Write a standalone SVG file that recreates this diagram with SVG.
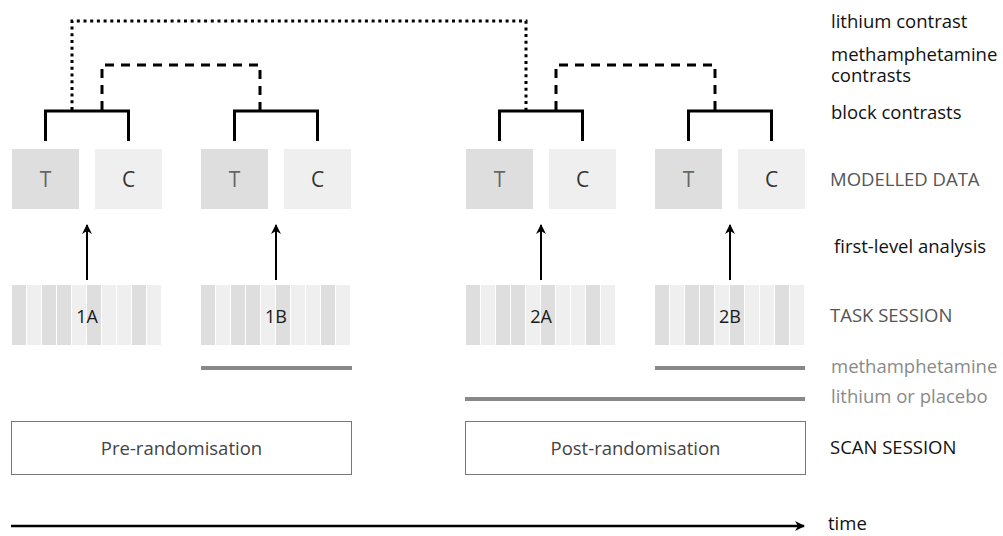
<svg xmlns="http://www.w3.org/2000/svg" width="1003" height="536" viewBox="0 0 1003 536">
  <style>
    text { font-family: "Open Sans", "Noto Sans", "DejaVu Sans", sans-serif; }
    .dark { fill: #dedede; }
    .light { fill: #efefef; }
    .lblT { font-size: 21px; fill: #666; text-anchor: middle; }
    .lblC { font-size: 21px; fill: #333; text-anchor: middle; }
    .lblTask { font-size: 18px; fill: #1a1a1a; text-anchor: middle; }
    .scanbox { fill: #fff; stroke: #777; stroke-width: 1; }
    .scanlbl { font-size: 18.5px; fill: #444; text-anchor: middle; }
    .legend { font-size: 18.5px; fill: #111; }
    .legend-grey { font-size: 18.5px; fill: #555; }
    .legend-drug { font-size: 18.5px; fill: #8a8a8a; }
    .bracket { fill: none; stroke: #000; stroke-width: 3; }
    .dotted { fill: none; stroke: #000; stroke-width: 3; stroke-dasharray: 3 3.7; }
    .dashed { fill: none; stroke: #000; stroke-width: 3; stroke-dasharray: 9 7; }
    .analysis { stroke: #000; stroke-width: 2; marker-end: url(#head); }
    .drug { stroke: #888; stroke-width: 4; }
    .timeline { stroke: #000; stroke-width: 2.5; marker-end: url(#head); }
  </style>
  <defs>
    <marker id="head" viewBox="0 0 10 10" refX="9" refY="5" markerUnits="userSpaceOnUse" markerWidth="11" markerHeight="10" orient="auto">
      <path d="M0,0 L10,5 L0,10 L3,5 z" fill="#000"/>
    </marker>
    <!-- ten blocks of a task run: dark/light alternation -->
    <g id="blocks">
      <rect class="dark" x="0" y="0" width="14" height="60"/>
      <rect class="light" x="15" y="0" width="14" height="60"/>
      <rect class="dark" x="30" y="0" width="14" height="60"/>
      <rect class="dark" x="45" y="0" width="14" height="60"/>
      <rect class="light" x="60" y="0" width="14" height="60"/>
      <rect class="dark" x="75" y="0" width="14" height="60"/>
      <rect class="light" x="90" y="0" width="14" height="60"/>
      <rect class="light" x="105" y="0" width="14" height="60"/>
      <rect class="dark" x="120" y="0" width="14" height="60"/>
      <rect class="light" x="135" y="0" width="14" height="60"/>
    </g>
  </defs>

  <!-- contrast brackets and links -->
  <g id="connectors">
    <path class="bracket" d="M45.5,141 V111 H128.5 V141"/>
    <path class="bracket" d="M234.5,141 V111 H317.5 V141"/>
    <path class="bracket" d="M499.5,141 V111 H582.5 V141"/>
    <path class="bracket" d="M688.5,141 V111 H771.5 V141"/>
    <path class="dotted" d="M72,110 V21 H526 V110"/>
    <path class="dashed" d="M102,110 V65 H260 V110"/>
    <path class="dashed" d="M556,110 V65 H715 V110"/>
    <line class="analysis" x1="87" y1="280" x2="87" y2="225"/>
    <line class="analysis" x1="276" y1="280" x2="276" y2="225"/>
    <line class="analysis" x1="541" y1="280" x2="541" y2="225"/>
    <line class="analysis" x1="730" y1="280" x2="730" y2="225"/>
    <line class="drug" x1="201" y1="368" x2="352" y2="368"/>
    <line class="drug" x1="655" y1="368" x2="805" y2="368"/>
    <line class="drug" x1="465" y1="399" x2="805" y2="399"/>
    <line class="timeline" x1="11" y1="526" x2="804" y2="526"/>
  </g>

  <!-- modelled data: task (T) and control (C) -->
  <g id="t1a"><rect class="dark" x="12" y="149" width="67" height="60"/><text class="lblT" x="45.5" y="187">T</text></g>
  <g id="c1a"><rect class="light" x="95" y="149" width="67" height="60"/><text class="lblC" x="128.5" y="187">C</text></g>
  <g id="t1b"><rect class="dark" x="201" y="149" width="67" height="60"/><text class="lblT" x="234.5" y="187">T</text></g>
  <g id="c1b"><rect class="light" x="284" y="149" width="67" height="60"/><text class="lblC" x="317.5" y="187">C</text></g>
  <g id="t2a"><rect class="dark" x="466" y="149" width="67" height="60"/><text class="lblT" x="499.5" y="187">T</text></g>
  <g id="c2a"><rect class="light" x="549" y="149" width="67" height="60"/><text class="lblC" x="582.5" y="187">C</text></g>
  <g id="t2b"><rect class="dark" x="655" y="149" width="67" height="60"/><text class="lblT" x="688.5" y="187">T</text></g>
  <g id="c2b"><rect class="light" x="738" y="149" width="67" height="60"/><text class="lblC" x="771.5" y="187">C</text></g>

  <!-- task sessions -->
  <g id="task1a"><use href="#blocks" x="12" y="285"/><text class="lblTask" x="87" y="323">1A</text></g>
  <g id="task1b"><use href="#blocks" x="201" y="285"/><text class="lblTask" x="276" y="323">1B</text></g>
  <g id="task2a"><use href="#blocks" x="466" y="285"/><text class="lblTask" x="541" y="323">2A</text></g>
  <g id="task2b"><use href="#blocks" x="655" y="285"/><text class="lblTask" x="730" y="323">2B</text></g>

  <!-- scan sessions -->
  <g id="scan-pre"><rect class="scanbox" x="11.5" y="421.5" width="340" height="53"/><text class="scanlbl" x="181.5" y="455">Pre-randomisation</text></g>
  <g id="scan-post"><rect class="scanbox" x="465.5" y="421.5" width="340" height="53"/><text class="scanlbl" x="635.5" y="455">Post-randomisation</text></g>

  <!-- row legend -->
  <g id="legend">
    <text class="legend" x="831" y="28">lithium contrast</text>
    <text class="legend" x="831" y="61">methamphetamine</text>
    <text class="legend" x="831" y="82">contrasts</text>
    <text class="legend" x="831" y="119">block contrasts</text>
    <text class="legend-grey" x="830" y="186">MODELLED DATA</text>
    <text class="legend" x="834" y="253">first-level analysis</text>
    <text class="legend-grey" x="830" y="322">TASK SESSION</text>
    <text class="legend-drug" x="831" y="373">methamphetamine</text>
    <text class="legend-drug" x="831" y="403">lithium or placebo</text>
    <text class="legend" x="830" y="454">SCAN SESSION</text>
    <text class="legend" x="828" y="530">time</text>
  </g>
</svg>
